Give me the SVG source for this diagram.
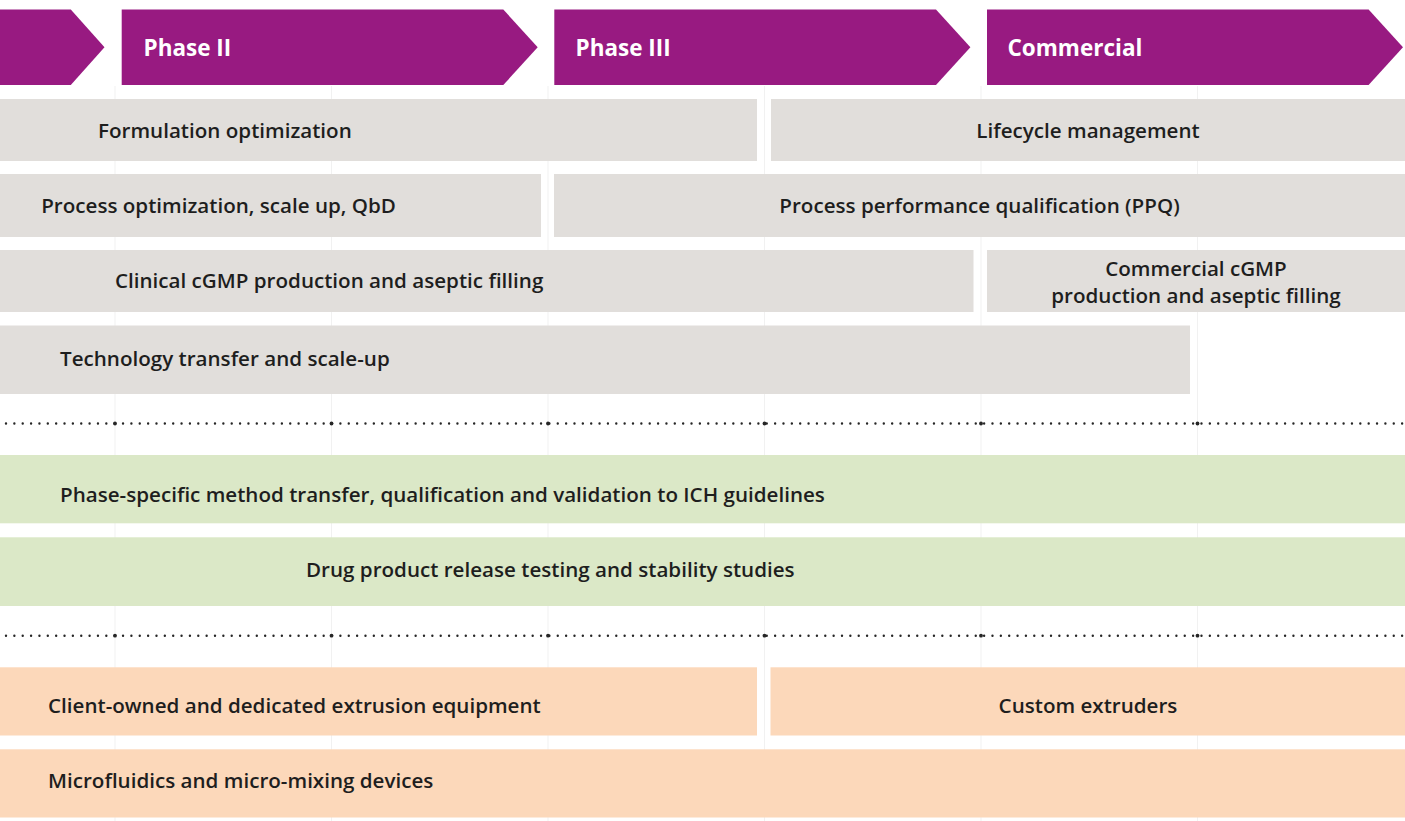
<svg xmlns="http://www.w3.org/2000/svg" width="1405" height="821" viewBox="0 0 1405 821">
<style>
  .phase { fill: #981A81; }
  .ph { font-family: "Open Sans", "Liberation Sans", sans-serif; font-weight: 700; font-size: 22.5px; fill: #ffffff; }
  .gray { fill: #E1DEDB; }
  .green { fill: #DBE8C7; }
  .orange { fill: #FCD8BA; }
  .t { font-family: "Open Sans", "Liberation Sans", sans-serif; font-weight: 600; font-size: 20.6px; fill: #1E1E1E; }
  .c { text-anchor: middle; }
  .grid { stroke: #F1F1F1; stroke-width: 1; }
  .dots { stroke: #262626; stroke-width: 2.4; stroke-linecap: round; fill: none; }
  .big { fill: #262626; }
</style>
<rect width="1405" height="821" fill="#ffffff"/>

<g id="grid-and-separators">
  <line class="grid" x1="115" y1="86" x2="115" y2="821"/>
  <line class="grid" x1="331.5" y1="86" x2="331.5" y2="821"/>
  <line class="grid" x1="548" y1="86" x2="548" y2="821"/>
  <line class="grid" x1="764.5" y1="86" x2="764.5" y2="821"/>
  <line class="grid" x1="981" y1="86" x2="981" y2="821"/>
  <line class="grid" x1="1197.5" y1="86" x2="1197.5" y2="821"/>
</g>

<g id="phase-1"><polygon class="phase" points="-311,9.5 70.8,9.5 104.5,47.25 70.8,85 -311,85"/></g>
<g id="phase-2"><polygon class="phase" points="121.7,9.5 503.3,9.5 537.7,47.25 503.3,85 121.7,85"/><text class="ph" x="143.5" y="56">Phase II</text></g>
<g id="phase-3"><polygon class="phase" points="554.3,9.5 936,9.5 970.4,47.25 936,85 554.3,85"/><text class="ph" x="575.5" y="56">Phase III</text></g>
<g id="phase-4"><polygon class="phase" points="987,9.5 1368.6,9.5 1403,47.25 1368.6,85 987,85"/><text class="ph" x="1007.5" y="56">Commercial</text></g>

<g id="formulation"><rect class="gray" x="0" y="99" width="757" height="62"/><text class="t" x="98" y="137.7">Formulation optimization</text></g>
<g id="lifecycle"><rect class="gray" x="771" y="99" width="634" height="62"/><text class="t c" x="1088" y="137.7">Lifecycle management</text></g>

<g id="process-optimization"><rect class="gray" x="0" y="174" width="541" height="63"/><text class="t" x="41.2" y="213.3">Process optimization, scale up, QbD</text></g>
<g id="ppq"><rect class="gray" x="554" y="174" width="851" height="63"/><text class="t c" x="979.5" y="213.3">Process performance qualification (PPQ)</text></g>

<g id="clinical"><rect class="gray" x="0" y="250" width="973.5" height="62"/><text class="t" x="115" y="288.3">Clinical cGMP production and aseptic filling</text></g>
<g id="commercial-cgmp"><rect class="gray" x="987" y="250" width="418" height="62"/><text class="t c" x="1196" y="275.7">Commercial cGMP</text><text class="t c" x="1196" y="303.3">production and aseptic filling</text></g>

<g id="tech-transfer"><rect class="gray" x="0" y="325.5" width="1190" height="68.5"/><text class="t" x="60" y="365.7">Technology transfer and scale-up</text></g>

<g id="separator-1">
  <line class="dots" x1="6" y1="423.5" x2="1405" y2="423.5" stroke-dasharray="0 8.36"/>
  <circle class="big" cx="115" cy="423.5" r="1.9"/>
  <circle class="big" cx="331.5" cy="423.5" r="1.9"/>
  <circle class="big" cx="548" cy="423.5" r="1.9"/>
  <circle class="big" cx="764.5" cy="423.5" r="1.9"/>
  <circle class="big" cx="981" cy="423.5" r="1.9"/>
  <circle class="big" cx="1197.5" cy="423.5" r="1.9"/>
</g>

<g id="method-transfer"><rect class="green" x="0" y="455" width="1405" height="68.3"/><text class="t" x="60" y="501.5">Phase-specific method transfer, qualification and validation to ICH guidelines</text></g>
<g id="release-testing"><rect class="green" x="0" y="537.3" width="1405" height="68.7"/><text class="t" x="306" y="577.3">Drug product release testing and stability studies</text></g>

<g id="separator-2">
  <line class="dots" x1="6" y1="635.7" x2="1405" y2="635.7" stroke-dasharray="0 8.36"/>
  <circle class="big" cx="115" cy="635.7" r="1.9"/>
  <circle class="big" cx="331.5" cy="635.7" r="1.9"/>
  <circle class="big" cx="548" cy="635.7" r="1.9"/>
  <circle class="big" cx="764.5" cy="635.7" r="1.9"/>
  <circle class="big" cx="981" cy="635.7" r="1.9"/>
  <circle class="big" cx="1197.5" cy="635.7" r="1.9"/>
</g>

<g id="client-owned"><rect class="orange" x="0" y="667.3" width="757" height="68.2"/><text class="t" x="48" y="713">Client-owned and dedicated extrusion equipment</text></g>
<g id="custom-extruders"><rect class="orange" x="770.5" y="667.3" width="634.5" height="68.2"/><text class="t c" x="1088" y="713">Custom extruders</text></g>
<g id="microfluidics"><rect class="orange" x="0" y="749.3" width="1405" height="68.2"/><text class="t" x="48" y="788.3">Microfluidics and micro-mixing devices</text></g>
</svg>
